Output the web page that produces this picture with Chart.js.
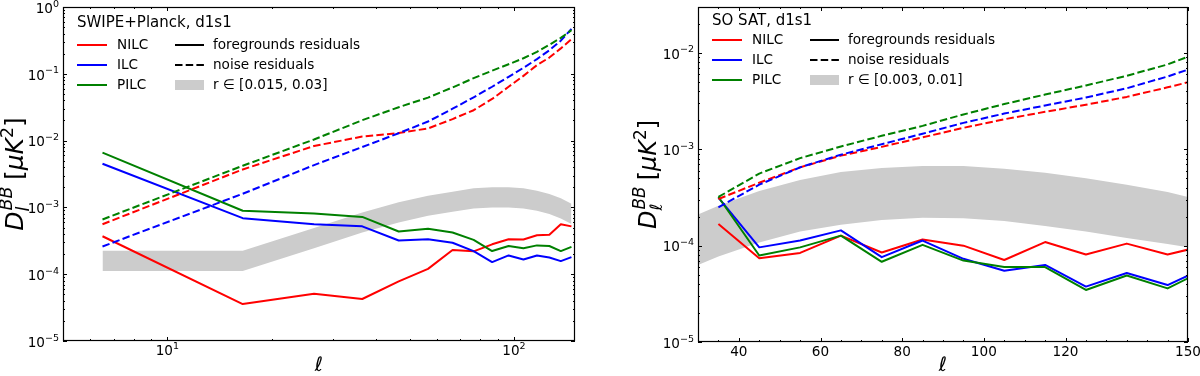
<!DOCTYPE html>
<html><head><meta charset="utf-8">
<script src="https://cdn.jsdelivr.net/npm/chart.js@4.4.1/dist/chart.umd.min.js"></script>
<style>
html,body{margin:0;padding:0;background:#fff;overflow:hidden;}
#wrap{position:relative;width:1200px;height:376px;}
canvas{position:absolute;top:0;}
</style></head><body>
<div id="wrap"><canvas id="c1" width="600" height="376" style="left:0;width:600px;height:376px"></canvas><canvas id="c2" width="600" height="376" style="left:600px;width:600px;height:376px"></canvas></div>
<script>
// ---------- LEFT PANEL: SWIPE+Planck, d1s1 ----------
const leftEll = [6.5,16.5,26.5,36.5,46.5,56.5,66.5,76.5,86.5,96.5,106.5,116.5,126.5,136.5,146.5];
const leftFgNILC  = [3.7e-4,3.57e-5,5.1e-5,4.25e-5,7.8e-5,1.2e-4,2.3e-4,2.2e-4,2.8e-4,3.33e-4,3.3e-4,3.83e-4,3.9e-4,5.6e-4,5.2e-4];
const leftFgILC   = [4.5e-3,6.9e-4,5.6e-4,5.2e-4,3.2e-4,3.33e-4,2.96e-4,2.22e-4,1.52e-4,1.91e-4,1.66e-4,1.91e-4,1.78e-4,1.57e-4,1.8e-4];
const leftFgPILC  = [6.6e-3,8.9e-4,8.1e-4,7.2e-4,4.35e-4,4.8e-4,4.2e-4,3.26e-4,2.22e-4,2.64e-4,2.44e-4,2.7e-4,2.64e-4,2.22e-4,2.56e-4];
const leftNoiseNILC = [5.6e-4,3.7e-3,8.3e-3,1.15e-2,1.3e-2,1.52e-2,2.1e-2,2.85e-2,4.2e-2,6.4e-2,9.3e-2,1.35e-1,1.75e-1,2.4e-1,3.3e-1];
const leftNoiseILC  = [2.6e-4,1.6e-3,4.3e-3,8.0e-3,1.29e-2,1.93e-2,3.0e-2,4.45e-2,6.4e-2,9.0e-2,1.23e-1,1.66e-1,2.25e-1,3.13e-1,4.7e-1];
const leftNoisePILC = [6.6e-4,4.2e-3,1.04e-2,2.02e-2,3.16e-2,4.4e-2,6.25e-2,8.6e-2,1.115e-1,1.39e-1,1.71e-1,2.13e-1,2.72e-1,3.45e-1,4.5e-1];
const leftBandHigh = [2.25e-4,2.25e-4,4.9e-4,8.4e-4,1.19e-3,1.5e-3,1.72e-3,1.93e-3,2.0e-3,2.0e-3,1.93e-3,1.78e-3,1.59e-3,1.37e-3,1.13e-3];
const leftBandLow  = [1.12e-4,1.12e-4,2.45e-4,4.2e-4,5.95e-4,7.5e-4,8.6e-4,9.65e-4,1.0e-3,1.0e-3,9.65e-4,8.9e-4,7.95e-4,6.85e-4,5.65e-4];
const leftXTickValues = [10,100];
const leftXTickLabels = ['10^1','10^2'];
const leftYTickValues = [1e-5,1e-4,1e-3,1e-2,1e-1,1];
const leftYTickLabels = ['10^-5','10^-4','10^-3','10^-2','10^-1','10^0'];
const leftTitle = 'SWIPE+Planck, d1s1';
const leftBandLabel = 'r \u2208 [0.015, 0.03]';

// ---------- RIGHT PANEL: SO SAT, d1s1 ----------
const rightEll = [35,45,55,65,75,85,95,105,115,125,135,145,155];
const rightFgNILC = [1.68e-4,7.4e-5,8.4e-5,1.27e-4,8.5e-5,1.16e-4,1.0e-4,7.1e-5,1.09e-4,8.1e-5,1.05e-4,8.1e-5,1.02e-4];
const rightFgILC  = [3.15e-4,9.6e-5,1.13e-4,1.44e-4,7.6e-5,1.13e-4,7.3e-5,5.5e-5,6.3e-5,3.76e-5,5.2e-5,3.9e-5,6.1e-5];
const rightFgPILC = [3.2e-4,7.9e-5,9.6e-5,1.27e-4,6.8e-5,1.02e-4,7.0e-5,6.0e-5,6.0e-5,3.47e-5,4.9e-5,3.6e-5,5.85e-5];
const rightNoiseNILC = [3.05e-4,4.5e-4,6.5e-4,8.6e-4,1.06e-3,1.33e-3,1.67e-3,2.05e-3,2.45e-3,2.9e-3,3.5e-3,4.4e-3,5.6e-3];
const rightNoiseILC  = [2.5e-4,4.3e-4,6.5e-4,8.8e-4,1.13e-3,1.45e-3,1.88e-3,2.35e-3,2.85e-3,3.45e-3,4.3e-3,5.7e-3,7.9e-3];
const rightNoisePILC = [3.2e-4,5.6e-4,8.1e-4,1.07e-3,1.38e-3,1.75e-3,2.3e-3,2.95e-3,3.7e-3,4.6e-3,5.8e-3,7.6e-3,1.1e-2];
const rightBandEll  = [30,35,45,55,65,75,85,95,105,115,125,135,145,150];
const rightBandHigh = [2.1e-4,2.6e-4,3.7e-4,4.8e-4,5.8e-4,6.4e-4,6.7e-4,6.7e-4,6.3e-4,5.7e-4,5.0e-4,4.3e-4,3.6e-4,3.2e-4];
const rightBandLow  = [6.3e-5,7.7e-5,1.08e-4,1.4e-4,1.65e-4,1.85e-4,1.95e-4,1.93e-4,1.8e-4,1.6e-4,1.4e-4,1.2e-4,1.04e-4,9.6e-5];
const rightXTickValues = [40,60,80,100,120,150];
const rightXTickLabels = ['40','60','80','100','120','150'];
const rightYTickValues = [1e-5,1e-4,1e-3,1e-2];
const rightYTickLabels = ['10^-5','10^-4','10^-3','10^-2'];
const rightTitle = 'SO SAT, d1s1';
const rightBandLabel = 'r \u2208 [0.003, 0.01]';

const methodNames = ['NILC','ILC','PILC'];
const methodColors = ['#ff0000','#0000ff','#008000'];
const styleNames = ['foregrounds residuals','noise residuals'];
const BAND_COLOR = '#cccccc';
const FAM = "'DejaVu Sans', 'Liberation Sans', sans-serif";
const DASH = [7.5,3.2];
const TICK_F = 13.6;

function pts(xs, ys){ return xs.map((x,i)=>({x:x, y:ys[i]})); }
function lineDs(label, xs, ys, color, dashed, order){
  return {label:label, data:pts(xs,ys), borderColor:color, backgroundColor:color, borderWidth:2,
    borderDash: dashed?DASH:[], pointRadius:0, pointHoverRadius:0, fill:false, tension:0, order:order,
    borderCapStyle:'butt', borderJoinStyle:'round'};
}
function bandDs(xs, hi, lo){
  return [
    {label:'band_hi', data:pts(xs,hi), borderWidth:0, borderColor:'rgba(0,0,0,0)', pointRadius:0, fill:'+1', backgroundColor:BAND_COLOR, order:50},
    {label:'band_lo', data:pts(xs,lo), borderWidth:0, borderColor:'rgba(0,0,0,0)', pointRadius:0, fill:false, backgroundColor:BAND_COLOR, order:51}
  ];
}
function logMinors(lo, hi){
  const out=[];
  for(let e=-6;e<=3;e++){ for(let m=2;m<=9;m++){ const v=m*Math.pow(10,e); if(v>lo*1.0001 && v<hi*0.9999) out.push(v);} }
  return out;
}

// label like "10^-3" -> "10" with raised exponent
function tickLabelParts(ctx, label){
  const k = label.indexOf('^');
  const base = k<0 ? label : label.slice(0,k);
  const exp = k<0 ? '' : label.slice(k+1).replace('-','\u2212');
  ctx.font = TICK_F+'px '+FAM; const wb = ctx.measureText(base).width;
  ctx.font = (TICK_F*0.7)+'px '+FAM; const we = exp ? ctx.measureText(exp).width : 0;
  return {base, exp, wb, we, w: wb+we};
}
function drawTickLabel(ctx, label, x, baseline, align){
  const p = tickLabelParts(ctx, label);
  let sx = align==='right' ? x - p.w : x - p.w/2;
  ctx.textAlign='left'; ctx.textBaseline='alphabetic'; ctx.fillStyle='#000';
  ctx.font = TICK_F+'px '+FAM; ctx.fillText(p.base, sx, baseline);
  if(p.exp){ ctx.font = (TICK_F*0.7)+'px '+FAM; ctx.fillText(p.exp, sx+p.wb, baseline-6.3); }
}

function drawLegend(ctx, ox, spec){
  ctx.save();
  ctx.textAlign='left'; ctx.textBaseline='middle'; ctx.fillStyle='#000';
  ctx.font = '15px ' + FAM;
  ctx.fillText(spec.title, ox+14, spec.titleY);
  ctx.font = '13.6px ' + FAM;
  for(let i=0;i<3;i++){
    const yy = spec.rowY + i*20;
    ctx.strokeStyle = methodColors[i]; ctx.lineWidth=2; ctx.setLineDash([]);
    ctx.beginPath(); ctx.moveTo(ox+14, yy); ctx.lineTo(ox+44, yy); ctx.stroke();
    ctx.fillText(methodNames[i], ox+54, yy);
  }
  ctx.strokeStyle='#000'; ctx.lineWidth=2;
  let yy = spec.rowY;
  ctx.setLineDash([]); ctx.beginPath(); ctx.moveTo(ox+112, yy); ctx.lineTo(ox+141, yy); ctx.stroke();
  ctx.fillText(styleNames[0], ox+150, yy);
  yy += 20;
  ctx.setLineDash(DASH); ctx.beginPath(); ctx.moveTo(ox+112, yy); ctx.lineTo(ox+141, yy); ctx.stroke();
  ctx.setLineDash([]);
  ctx.fillText(styleNames[1], ox+150, yy);
  yy += 20;
  ctx.fillStyle = BAND_COLOR; ctx.fillRect(ox+112, yy-5, 29, 10);
  ctx.fillStyle='#000';
  ctx.fillText(spec.bandLabel, ox+150, yy);
  ctx.restore();
}

function drawYLabel(ctx, xb, yc, sub, F){
  const it = s => 'italic '+s+'px '+FAM;
  const up = s => s+'px '+FAM;
  ctx.save();
  function w(t,f){ ctx.font=f; return ctx.measureText(t).width; }
  const wD = w('D', it(F));
  const wSub = w(sub, it(F*0.7));
  const wSup = w('BB', it(F*0.7));
  const stack = Math.max(wSub,wSup);
  const items = [
    {t:'[', f:up(F), dy:0},
    {t:'\u03BC', f:it(F), dy:0},
    {t:'K', f:it(F), dy:0},
    {t:'2', f:up(F*0.7), dy:-0.42*F},
    {t:']', f:up(F), dy:0}
  ];
  let total = wD + stack + 0.3*F;
  items.forEach(p=>{ p.w = w(p.t,p.f); total += p.w; });
  ctx.translate(xb, yc); ctx.rotate(-Math.PI/2);
  ctx.fillStyle='#000'; ctx.textAlign='left'; ctx.textBaseline='alphabetic';
  let x = -total/2;
  ctx.font = it(F); ctx.fillText('D', x, 0); x += wD;
  ctx.font = it(F*0.7); ctx.fillText('BB', x+1, -0.45*F); ctx.fillText(sub, x, 0.25*F);
  x += stack + 0.3*F;
  items.forEach(p=>{ ctx.font=p.f; ctx.fillText(p.t, x, p.dy); x += p.w; });
  ctx.restore();
}

function framePlugin(spec){
  return {
    id:'frame_'+spec.id,
    afterDraw(chart){
      const ctx = chart.ctx, a = chart.chartArea, xs = chart.scales.x, ys = chart.scales.y;
      ctx.save();
      ctx.strokeStyle='#000'; ctx.lineWidth=1; ctx.setLineDash([]);
      const L=a.left, R=a.right, T=a.top, B=a.bottom;
      function xt(v,len){ const p=Math.round(xs.getPixelForValue(v))+0.5; ctx.beginPath(); ctx.moveTo(p,B); ctx.lineTo(p,B-len); ctx.moveTo(p,T); ctx.lineTo(p,T+len); ctx.stroke(); }
      function yt(v,len){ const p=Math.round(ys.getPixelForValue(v))+0.5; ctx.beginPath(); ctx.moveTo(L,p); ctx.lineTo(L+len,p); ctx.moveTo(R,p); ctx.lineTo(R-len,p); ctx.stroke(); }
      spec.xMajor.forEach(v=>xt(v,4)); spec.xMinor.forEach(v=>xt(v,2));
      spec.yMajor.forEach(v=>yt(v,4)); spec.yMinor.forEach(v=>yt(v,2));
      ctx.lineWidth=1.2;
      ctx.strokeRect(L+0.5, T+0.5, R-L-1, B-T-1);
      // tick labels from the scales
      spec.xMajor.forEach((v,i)=>drawTickLabel(ctx, spec.xLabels[i], xs.getPixelForValue(v), B+14, 'center'));
      spec.yMajor.forEach((v,i)=>drawTickLabel(ctx, spec.yLabels[i], L-4, ys.getPixelForValue(v)+5.8, 'right'));
      ctx.restore();
      drawLegend(ctx, L, spec);
      drawYLabel(ctx, spec.yLabelX, (T+B)/2, spec.sub, spec.yLabelF);
      ctx.save();
      ctx.fillStyle='#000'; ctx.textAlign='center'; ctx.textBaseline='alphabetic';
      ctx.font = 'italic 20px '+FAM;
      ctx.fillText('\u2113', (L+R)/2, 371);
      ctx.restore();
    }
  };
}

function makeChart(id, cfg){
  return new Chart(document.getElementById(id), {
    type:'line',
    data:{datasets: cfg.datasets},
    options:{
      responsive:false, animation:false, devicePixelRatio:1,
      layout:{padding:{left:0, right:cfg.padRight, top:7, bottom:0}},
      plugins:{legend:{display:false}, tooltip:{enabled:false}},
      events:[],
      scales:{
        x:{type:cfg.xType, min:cfg.xMin, max:cfg.xMax,
          afterBuildTicks:s=>{ s.ticks = cfg.xTickValues.map(v=>({value:v})); },
          afterFit:s=>{ s.height = cfg.xAxisH; },
          ticks:{display:false, autoSkip:false, maxRotation:0, minRotation:0},
          grid:{display:false, drawTicks:false}, border:{display:false}},
        y:{type:'logarithmic', min:cfg.yMin, max:cfg.yMax,
          afterBuildTicks:s=>{ s.ticks = cfg.yTickValues.map(v=>({value:v})); },
          afterFit:s=>{ s.width = cfg.yAxisW; },
          ticks:{display:false, autoSkip:false},
          grid:{display:false, drawTicks:false}, border:{display:false}}
      }
    },
    plugins:[framePlugin(cfg.frame)]
  });
}

function panelDatasets(xs, fg, noise, bx, bhi, blo){
  const ds = bandDs(bx, bhi, blo);
  let ord = 40;
  for(let i=0;i<3;i++){ ds.push(lineDs(methodNames[i]+' foregrounds residuals', xs, fg[i], methodColors[i], false, ord--)); }
  for(let i=0;i<3;i++){ ds.push(lineDs(methodNames[i]+' noise residuals', xs, noise[i], methodColors[i], true, ord--)); }
  return ds;
}

makeChart('c1', {
  datasets: panelDatasets(leftEll, [leftFgNILC,leftFgILC,leftFgPILC], [leftNoiseNILC,leftNoiseILC,leftNoisePILC], leftEll, leftBandHigh, leftBandLow),
  xType:'logarithmic', xMin:5, xMax:150, yMin:1e-5, yMax:1,
  xTickValues:leftXTickValues, yTickValues:leftYTickValues,
  padRight:25, xAxisH:35, yAxisW:63,
  frame:{id:'L', xMajor:leftXTickValues, xLabels:leftXTickLabels, xMinor:[5,6,7,8,9,20,30,40,50,60,70,80,90],
    yMajor:leftYTickValues, yLabels:leftYTickLabels, yMinor:logMinors(1e-5,1), title:leftTitle, bandLabel:leftBandLabel,
    titleY:23, rowY:45, yLabelX:23, yLabelF:25, sub:'l'}
});

const rightXMinor = [];
for(let v=35; v<150; v+=5){ if(rightXTickValues.indexOf(v)<0) rightXMinor.push(v); }
makeChart('c2', {
  datasets: panelDatasets(rightEll, [rightFgNILC,rightFgILC,rightFgPILC], [rightNoiseNILC,rightNoiseILC,rightNoisePILC], rightBandEll, rightBandHigh, rightBandLow),
  xType:'linear', xMin:30, xMax:150, yMin:1e-5, yMax:3e-2,
  xTickValues:rightXTickValues, yTickValues:rightYTickValues,
  padRight:12, xAxisH:34, yAxisW:98,
  frame:{id:'R', xMajor:rightXTickValues, xLabels:rightXTickLabels, xMinor:rightXMinor,
    yMajor:rightYTickValues, yLabels:rightYTickLabels, yMinor:logMinors(1e-5,3e-2), title:rightTitle, bandLabel:rightBandLabel,
    titleY:21, rowY:40, yLabelX:56, yLabelF:24, sub:'\u2113'}
});
</script>
</body></html>
